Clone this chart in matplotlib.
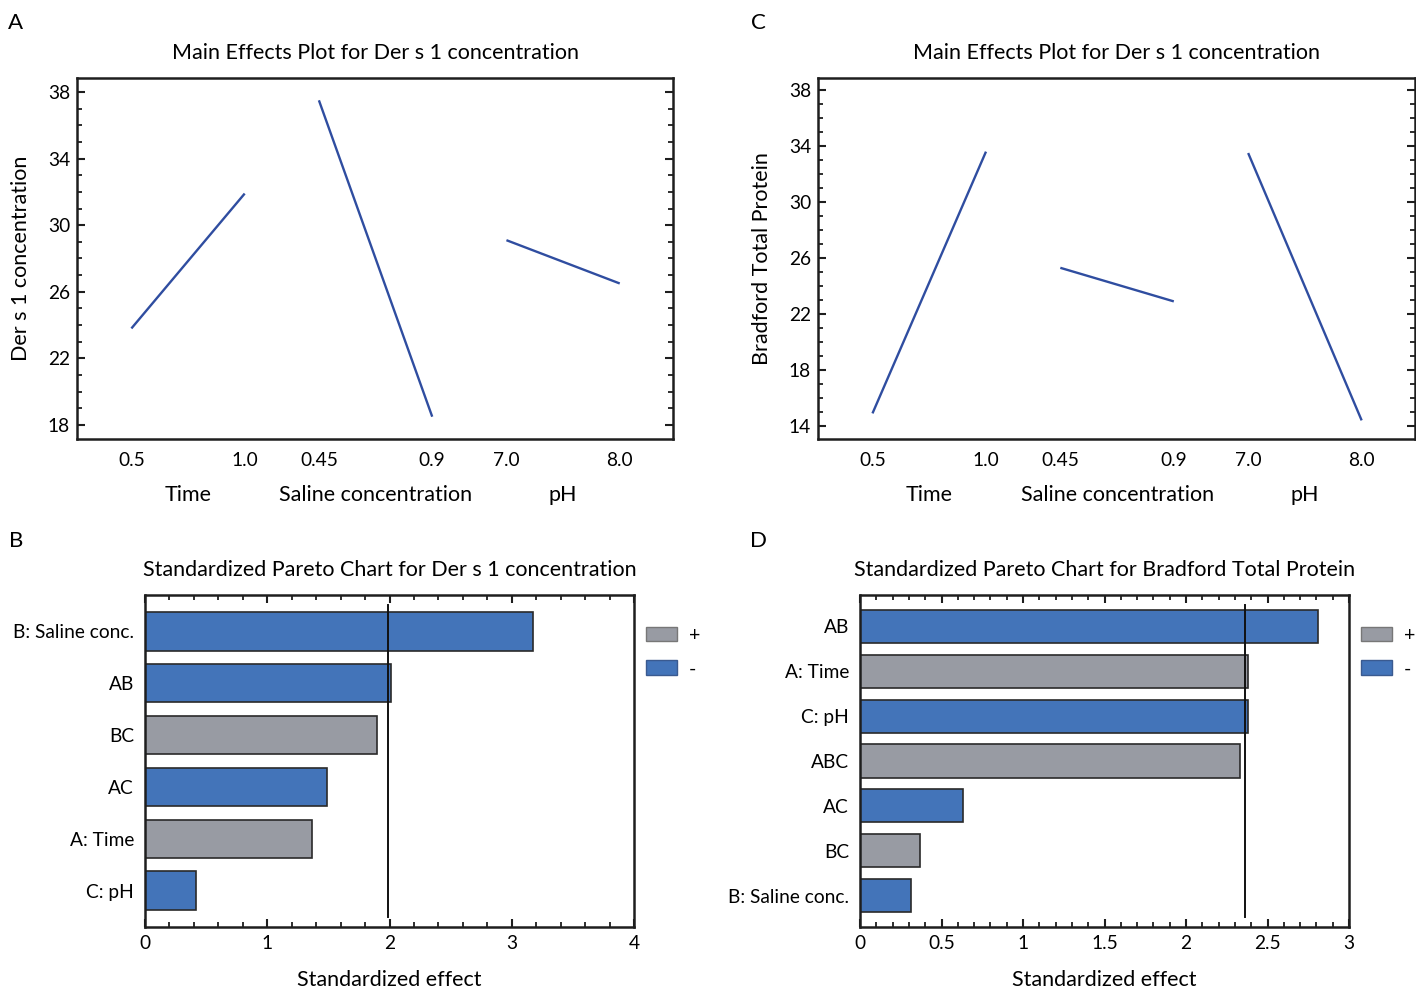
import matplotlib
matplotlib.use("Agg")
import matplotlib.pyplot as plt
from matplotlib.patches import Patch
from matplotlib.ticker import MultipleLocator

plt.rcParams['font.family'] = ['Lato', 'DejaVu Sans']

W, H = 1416, 988

# ---------------- data ----------------
factors = ["Time", "Saline concentration", "pH"]
level_labels = [["0.5", "1.0"], ["0.45", "0.9"], ["7.0", "8.0"]]
ders_means = [[23.8, 31.9], [37.5, 18.5], [29.1, 26.5]]
bradford_means = [[14.9, 33.6], [25.3, 22.9], [33.5, 14.4]]

pareto_b_terms = ["B: Saline conc.", "AB", "BC", "AC", "A: Time", "C: pH"]
pareto_b_values = [3.17, 2.01, 1.90, 1.49, 1.37, 0.42]
pareto_b_signs = ["-", "-", "+", "-", "+", "-"]
pareto_b_crit = 1.99

pareto_d_terms = ["AB", "A: Time", "C: pH", "ABC", "AC", "BC", "B: Saline conc."]
pareto_d_values = [2.81, 2.38, 2.38, 2.33, 0.63, 0.37, 0.31]
pareto_d_signs = ["-", "+", "-", "+", "-", "+", "-"]
pareto_d_crit = 2.36

LINE = "#2f4da0"
BLUE = "#4374b9"
GRAY = "#989ba3"
EDGE = "#2a2a2a"
SPINE = "#1e1e1e"

FS_TICK = 13.8
FS_LAB = 15.5

fig = plt.figure(figsize=(W / 100, H / 100), dpi=100)


def rect(l, t, r, b):
    return [l / W, 1 - b / H, (r - l) / W, (b - t) / H]


def style_spines(ax):
    for s in ax.spines.values():
        s.set_linewidth(1.8)
        s.set_color(SPINE)


def main_effects(ax, means, ylim, yticks, ylabel, title):
    gap = 0.655
    xs_all, labels_all, centers = [], [], []
    for g, (vals, labs) in enumerate(zip(means, level_labels)):
        x0 = g * (1 + gap)
        xs = [x0, x0 + 1]
        ax.plot(xs, vals, color=LINE, lw=1.7, solid_capstyle='butt')
        xs_all += xs
        labels_all += labs
        centers.append(x0 + 0.5)
    ax.set_xlim(-0.48, 2 * (1 + gap) + 1 + 0.47)
    ax.set_ylim(*ylim)
    ax.set_xticks(xs_all)
    ax.set_xticklabels(labels_all, fontsize=FS_TICK)
    ax.tick_params(axis='x', length=0, pad=9)
    ax.set_yticks(yticks)
    ax.yaxis.set_minor_locator(MultipleLocator(1))
    ax.tick_params(axis='y', which='major', direction='in', length=6, width=1.5,
                   right=True, labelsize=FS_TICK, pad=5, color=SPINE)
    ax.tick_params(axis='y', which='minor', direction='in', length=3.5, width=1.3,
                   right=True, color=SPINE)
    for c, f in zip(centers, factors):
        ax.text(c, -0.155, f, transform=ax.get_xaxis_transform(), ha='center',
                va='center', fontsize=FS_LAB)
    ax.set_ylabel(ylabel, fontsize=FS_LAB, labelpad=12)
    ax.set_title(title, fontsize=FS_LAB, pad=14)
    style_spines(ax)


def pareto(ax, terms, values, signs, crit, xmax, major, minor, title):
    ys = list(range(len(terms)))
    colors = [GRAY if s == "+" else BLUE for s in signs]
    ax.barh(ys, values, height=0.74, color=colors, edgecolor=EDGE, linewidth=1.2)
    ax.axvline(crit, ymin=0.03, ymax=0.97, color="#111111", lw=1.4)
    ax.set_ylim(len(terms) - 0.3, -0.7)
    ax.set_xlim(0, xmax)
    ax.set_yticks(ys)
    ax.set_yticklabels(terms, fontsize=FS_TICK)
    ax.tick_params(axis='y', length=0, pad=8)
    ax.xaxis.set_major_locator(MultipleLocator(major))
    ax.xaxis.set_minor_locator(MultipleLocator(minor))
    ax.xaxis.set_major_formatter(matplotlib.ticker.FuncFormatter(lambda v, p: f"{v:g}"))
    ax.tick_params(axis='x', which='major', direction='in', length=6, width=1.5,
                   top=True, labelsize=FS_TICK, pad=6, color=SPINE)
    ax.tick_params(axis='x', which='minor', direction='in', length=3.5, width=1.3,
                   top=True, color=SPINE)
    ax.set_xlabel("Standardized effect", fontsize=FS_LAB, labelpad=13)
    ax.set_title(title, fontsize=FS_LAB, pad=14)
    style_spines(ax)
    handles = [Patch(facecolor=GRAY, edgecolor="#777777", lw=1.0),
               Patch(facecolor=BLUE, edgecolor="#3a5a90", lw=1.0)]
    ax.legend(handles, ["+", "-"], loc='upper left', bbox_to_anchor=(1.024, 0.905),
              frameon=False, fontsize=14, handlelength=1.6, handleheight=0.8,
              handletextpad=0.6, labelspacing=0.85, borderaxespad=0, borderpad=0)


axA = fig.add_axes(rect(77, 78, 673, 439))
main_effects(axA, ders_means, (17.16, 38.84), [18, 22, 26, 30, 34, 38],
             "Der s 1 concentration", "Main Effects Plot for Der s 1 concentration")

axC = fig.add_axes(rect(818, 78, 1415, 439))
main_effects(axC, bradford_means, (13.07, 38.86), [14, 18, 22, 26, 30, 34, 38],
             "Bradford Total Protein", "Main Effects Plot for Der s 1 concentration")

axB = fig.add_axes(rect(145, 595, 634, 927))
pareto(axB, pareto_b_terms, pareto_b_values, pareto_b_signs, pareto_b_crit,
       4, 1, 0.2, "Standardized Pareto Chart for Der s 1 concentration")

axD = fig.add_axes(rect(860, 595, 1349, 927))
pareto(axD, pareto_d_terms, pareto_d_values, pareto_d_signs, pareto_d_crit,
       3, 0.5, 0.1, "Standardized Pareto Chart for Bradford Total Protein")

for letter, x, y in [("A", 16, 23), ("C", 758, 23), ("B", 16, 541), ("D", 758, 541)]:
    fig.text(x / W, 1 - y / H, letter, fontsize=16, ha='center', va='center')

fig.savefig("out.png", dpi=100)
